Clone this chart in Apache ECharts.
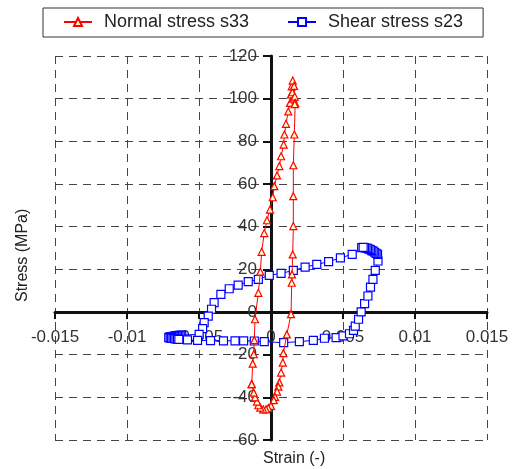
<!DOCTYPE html>
<html><head><meta charset="utf-8">
<script src="https://cdn.jsdelivr.net/npm/echarts@6/dist/echarts.min.js"></script>
<style>html,body{margin:0;padding:0;background:#fff}#c{width:517px;height:469px}</style>
</head><body><div id="c"></div>
<script>
var xTicks = [-0.015, -0.01, -0.005, 0, 0.005, 0.01, 0.015];
var yTicks = [-60, -40, -20, 0, 20, 40, 60, 80, 100, 120];
var seriesNames = ['Normal stress s33', 'Shear stress s23'];

var normalStrain = [-0.00134,-0.00127,-0.0012,-0.00116,-0.00111,-0.00088,-0.00074,-0.00065,-0.00047,-0.00028,-0.00007,0.00012,0.00023,0.00042,0.00058,0.0007,0.00088,0.00093,0.00104,0.0012,0.00132,0.00139,0.00144,0.00151,
  0.00148,0.00155,0.0016,0.00165,0.00168,0.00165,
  0.00162,0.00155,0.00155,0.00155,0.00151,0.00146,0.00144,0.00139,0.0011,0.00086,0.00082,0.0007,0.00058,0.00051,0.00042,0.00028,0.00019,0,-0.00019,-0.00035,-0.00054,-0.00074,-0.00088,-0.00097,-0.00111,-0.0012,-0.00134];
var normalStress = [-33.8,-24.2,-19.8,-13.2,-3.4,9,18.9,28.2,37,43,48,53.8,59,64,68.4,73,78.5,83.2,88.2,94,98,102,105.8,108.5,
  103,100,106,101,98,97.4,
  83.2,68.8,54.3,40.3,27,17.6,13.7,-1,-10.5,-19.3,-23.7,-28.4,-33,-35,-37.3,-39.8,-41.3,-44,-45,-45.6,-45.6,-44.8,-43.7,-42,-40,-37.8,-33.8];

var shearStrain = [0.0063,0.00564,0.00482,0.0040,0.00318,0.00237,0.00155,0.0007,-0.00012,-0.00088,-0.00158,-0.00228,-0.0029,-0.00348,-0.00395,-0.00413,-0.00436,-0.00464,-0.00475,-0.00499,
  -0.0062,-0.0063,-0.0064,-0.0065,-0.0066,-0.0067,-0.0068,-0.0069,-0.007,-0.00705,-0.0071,-0.007,-0.0069,-0.0068,-0.0067,-0.0066,-0.0065,-0.0064,
  -0.0058,-0.0051,-0.0042,-0.0033,-0.0025,-0.0019,-0.00116,-0.00047,0.00088,0.00197,0.00294,0.00371,0.00452,0.005,0.00545,0.00573,
  0.00585,0.00608,0.00626,0.0065,0.00673,0.00691,0.00708,0.00724,0.00743,
  0.0074,0.0073,0.0072,0.0071,0.007,0.0069,0.0068,0.0067,0.0066,0.0065,0.0064];
var shearStress = [30.2,27,25.4,23.6,22.3,21,19.5,18.1,17.2,15.3,14.2,12.6,10.9,8.3,4.4,1.3,-1.9,-5,-7.8,-10.5,
  -10.8,-10.9,-11,-11.1,-11.2,-11.3,-11.4,-11.5,-11.6,-11.8,-12,-12.2,-12.3,-12.4,-12.5,-12.6,-12.7,-12.8,
  -13.1,-13.3,-13.4,-13.5,-13.5,-13.5,-13.6,-13.9,-14.4,-13.9,-13.3,-12.3,-12,-11.2,-10.2,-8.6,
  -6.6,-3.4,0.1,3.9,7.5,11.7,15.3,19.5,23.9,
  27,27.5,28,28.5,28.8,29.2,29.5,29.8,30,30.2,30.3];

function pairs(xs, ys){ return xs.map(function(x,i){ return [x, ys[i]]; }); }

var G = {left:55, right:30, top:56, bottom:29, W:517, H:469};
var plotW = G.W - G.left - G.right, plotH = G.H - G.top - G.bottom;
var xMin = xTicks[0], xMax = xTicks[xTicks.length-1], yMin = yTicks[0], yMax = yTicks[yTicks.length-1];
// shift axes so they cross at zero
var yAxisOffset = -plotW * (0 - xMin) / (xMax - xMin);
var xAxisOffset = -plotH * (0 - yMin) / (yMax - yMin);

var chart = echarts.init(document.getElementById('c'), null, {renderer:'canvas'});
var font = 'Liberation Sans, Arial, sans-serif';
chart.setOption({
  animation:false,
  textStyle:{fontFamily:font},
  grid:{left:G.left, right:G.right, top:G.top, bottom:G.bottom, containLabel:false},
  legend:{
    data:seriesNames, left:43, top:8, padding:[5,20,6,20], itemGap:38,
    itemWidth:28, itemHeight:10, borderColor:'#333', borderWidth:1,
    textStyle:{fontSize:18, color:'#222', fontFamily:font, padding:[0,0,0,7]}
  },
  xAxis:[{
    type:'value', min:xMin, max:xMax, interval:0.005, position:'bottom', offset:xAxisOffset,
    axisLine:{onZero:false, lineStyle:{color:'#111', width:3}},
    axisTick:{show:true, length:7, lineStyle:{color:'#111', width:2}},
    axisLabel:{fontSize:17, color:'#333', margin:17, formatter:function(v){return String(+v.toFixed(3));}},
    splitLine:{show:true, lineStyle:{type:[8,6], color:'#444', width:1}}
  }],
  yAxis:[{
    type:'value', min:yMin, max:yMax, interval:20, position:'left', offset:yAxisOffset,
    axisLine:{onZero:false, lineStyle:{color:'#111', width:3}},
    axisTick:{show:true, length:8, lineStyle:{color:'#111', width:2}},
    axisLabel:{fontSize:17, color:'#333', margin:14},
    splitLine:{show:true, lineStyle:{type:[8,6], color:'#444', width:1}}
  }],
  graphic:[
    {type:'text', left:263, top:451, style:{text:'Strain (-)', font:'16px '+font, fill:'#222'}},
    {type:'text', x:15, y:302, rotation:Math.PI/2, style:{text:'Stress (MPa)', font:'16px '+font, fill:'#222'}}
  ],
  series:[
    {name:seriesNames[0], type:'line', data:pairs(normalStrain, normalStress), symbol:'triangle', symbolSize:7,
     lineStyle:{color:'#ff0000', width:1}, itemStyle:{color:'#ffffc8', borderColor:'#ff0000', borderWidth:1.2}, z:3},
    {name:seriesNames[1], type:'line', data:pairs(shearStrain, shearStress), symbol:'rect', symbolSize:8,
     lineStyle:{color:'#0000ff', width:1}, itemStyle:{color:'#ffffff', borderColor:'#0000ff', borderWidth:1.2}, z:2}
  ]
});
</script></body></html>
